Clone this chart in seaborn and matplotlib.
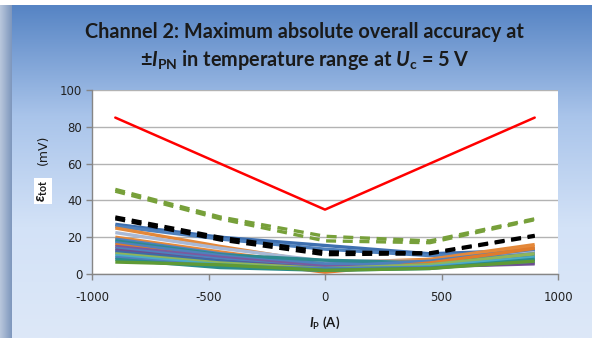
import numpy as np
import matplotlib
matplotlib.use("Agg")
import matplotlib.pyplot as plt
import seaborn as sns

# primary current (A)
current = [-900, -450, 0, 450, 900]

# limit and statistics lines (mV)
limit_red = [85, 60, 35, 60, 85]
green_dash_a = [46, 31, 20.5, 18, 30]
green_dash_b = [45, 30, 18, 17, 29.5]
black_dash_a = [31, 20, 12, 11.5, 21]
black_dash_b = [30, 18.5, 10.5, 11, 20.5]

# individual samples (mV)
samples = [
    [27, 20, 15.5, 11, 13],
    [26, 19, 13.5, 10, 12],
    [25, 15, 6, 8, 16],
    [22.5, 14, 7, 7, 12],
    [20, 12, 4.5, 7.5, 15],
    [19, 11, 5.5, 6.5, 11],
    [18, 10.5, 7.5, 6, 10],
    [17, 10, 4, 7, 13.5],
    [16, 8, 1, 6, 14],
    [15, 9, 4, 4, 5.5],
    [14, 8, 3, 5, 9],
    [13, 7, 3, 4, 6],
    [12, 7, 2, 4.5, 8],
    [11, 6, 3, 5, 11],
    [10, 5, 2, 4, 9],
    [9, 4, 3, 3.5, 7],
    [8, 3.5, 2, 3, 8],
    [6.5, 5, 2, 3, 7],
]
sample_colors = ["#3E6FAF", "#4F81BD", "#E3883A", "#A9B9D6", "#E6893B", "#4F81BD",
                 "#2E8A8F", "#4F81BD", "#E07B2C", "#7A5A9E", "#4F81BD", "#6B4F8F",
                 "#3C6CA8", "#8FB55A", "#4BACC6", "#4F81BD", "#2A8C8C", "#5F9A35"]

sns.set_style("white")
plt.rcParams["mathtext.fontset"] = "custom"
plt.rcParams["mathtext.rm"] = "Lato:bold"
plt.rcParams["mathtext.it"] = "Lato:italic:bold"
plt.rcParams["mathtext.bf"] = "Lato:bold"
plt.rcParams["axes.unicode_minus"] = False

fig = plt.figure(figsize=(5.95, 3.42), dpi=100)

# gradient background
bg = fig.add_axes([12 / 595, 4 / 342, 580 / 595, 333 / 342])
grad = np.linspace(0, 1, 256).reshape(-1, 1)
cmap = matplotlib.colors.LinearSegmentedColormap.from_list(
    "bg", ["#5684c4", "#a9c4ea", "#d3e2f7", "#dde8f8"])
bg.imshow(grad, aspect="auto", cmap=cmap, extent=[0, 1, 0, 1], origin="upper")
bg.axis("off")
strip = fig.add_axes([0, 4 / 342, 12 / 595, 333 / 342])
strip.imshow(np.linspace(0, 1, 20).reshape(1, -1), aspect="auto",
             cmap=matplotlib.colors.LinearSegmentedColormap.from_list("s", ["#b8c6dc", "#7f98bd"]))
strip.axis("off")

ax = fig.add_axes([92 / 595, 1 - 274 / 342, 466 / 595, 184 / 342])
ax.set_facecolor("white")

for vals, col in zip(samples, sample_colors):
    sns.lineplot(x=current, y=vals, ax=ax, color=col, lw=2.4, solid_capstyle="butt")
for vals in (black_dash_b, black_dash_a):
    sns.lineplot(x=current, y=vals, ax=ax, color="black", lw=2.4, linestyle=(0, (3, 2)))
for vals in (green_dash_b, green_dash_a):
    sns.lineplot(x=current, y=vals, ax=ax, color="#77A03A", lw=2.4, linestyle=(0, (3, 2)))
sns.lineplot(x=current, y=limit_red, ax=ax, color="#FF0000", lw=1.8)

ax.set_xlim(-1000, 1000)
ax.set_ylim(0, 100)
ax.set_xticks([-1000, -500, 0, 500, 1000])
ax.set_yticks([0, 20, 40, 60, 80, 100])
ax.yaxis.grid(True, color="#b3b3b3", lw=1)
ax.set_axisbelow(True)
for s in ("top", "right"):
    ax.spines[s].set_visible(False)
for s in ("left", "bottom"):
    ax.spines[s].set_color("#868686")
    ax.spines[s].set_linewidth(1)
ax.tick_params(axis="both", direction="out", length=4, width=1, color="#868686",
               labelsize=8.5, labelcolor="#222222", pad=3, left=True, bottom=True)
ax.tick_params(axis="x", pad=8)

fig.text(0.512, 0.905, "Channel 2: Maximum absolute overall accuracy at",
         ha="center", va="center", fontsize=14.3, fontweight="bold", family="Lato",
         color="#1a1a1a")
fig.text(0.512, 0.825, r"±$I_{\mathrm{PN}}$ in temperature range at $U_{\mathrm{c}}$ = 5 V",
         ha="center", va="center", fontsize=14.3, fontweight="bold", family="Lato",
         color="#1a1a1a")

fig.text(325 / 595, 1 - 323 / 342, r"$I_{\mathrm{P}}\ \mathrm{(A)}$", ha="center", va="center",
         fontsize=9.5, color="#1a1a1a")

fig.text(43 / 595, 1 - 191 / 342, r"$\varepsilon_{\mathrm{tot}}$", rotation=90,
         ha="center", va="center", fontsize=11, color="#1a1a1a", family="DejaVu Serif",
         bbox=dict(facecolor="white", edgecolor="none", pad=1))
fig.text(43 / 595, 1 - 150 / 342, "(mV)", rotation=90, ha="center", va="center",
         fontsize=9, color="#1a1a1a", family="DejaVu Sans")

fig.savefig("out.png", dpi=100)
